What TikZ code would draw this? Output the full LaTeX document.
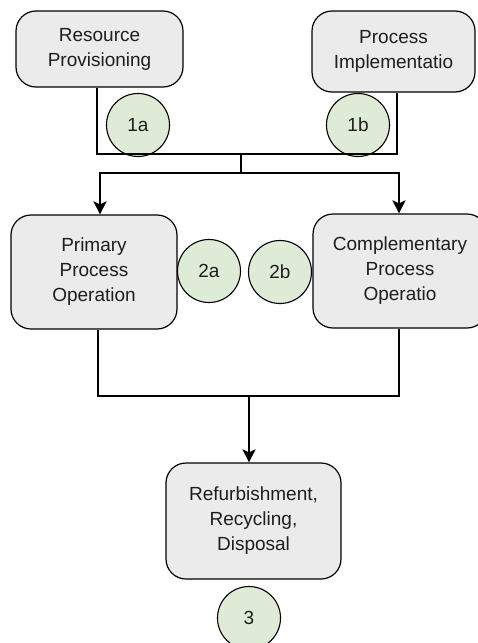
\documentclass[tikz,border=0pt]{standalone}
\usepackage{fontspec}
\setmainfont{Liberation Sans}
\usetikzlibrary{arrows.meta}
\definecolor{boxfill}{HTML}{EBEBEB}
\definecolor{stepfill}{HTML}{DEEBD6}
\definecolor{txt}{HTML}{1E1E1E}
\begin{document}
\begin{tikzpicture}[x=1pt,y=-1pt,
  stagebox/.style={draw=black, line width=1.2pt, fill=boxfill, rounded corners=20pt,
    align=center, text=txt, inner sep=0pt, font=\fontsize{19}{25}\selectfont},
  stepmark/.style={draw=black, line width=1.1pt, fill=stepfill, circle, minimum size=63pt,
    inner sep=0pt, text=txt, font=\fontsize{19}{23}\selectfont},
  conn/.style={line width=2.6pt, line join=miter},
  arr/.style={conn, -{Stealth[length=13pt,width=13pt,inset=3pt]}}]
\useasboundingbox (0,0) rectangle (477,643);

% process stages
\node[stagebox, minimum width=167pt, minimum height=76pt] (RP) at (99.5,49) {Resource\\Provisioning};
\node[stagebox, minimum width=163pt, minimum height=81pt] (PI) at (393.5,51.5) {Process\\Implementatio};
\node[stagebox, minimum width=166pt, minimum height=114pt] (PPO) at (94,272) {Primary\\Process\\Operation};
\node[stagebox, minimum width=174pt, minimum height=114pt] (CPO) at (400,271) {Complementary\\Process\\Operatio};
\node[stagebox, minimum width=175pt, minimum height=116pt] (RRD) at (253.5,521) {Refurbishment,\\Recycling,\\Disposal};

% step markers
\node[stepmark] (s1a) at (138,125) {1a};
\node[stepmark] (s1b) at (358,125) {1b};
\node[stepmark] (s2a) at (209,271) {2a};
\node[stepmark] (s2b) at (280,272) {2b};
\node[stepmark] (s3) at (249,618) {3};

% junction points
\coordinate (j1) at (241,154);
\coordinate (j2) at (241,173);
\coordinate (j3) at (249,396);

% connectors
\draw[conn] ([xshift=-2.5pt]RP.south) |- (j1) -| ([xshift=3.5pt]PI.south);
\draw[conn] (j1) -- (j2);
\draw[arr] (j2) -| ([xshift=6pt]PPO.north);
\draw[arr] (j2) -| ([xshift=-1pt]CPO.north);
\draw[conn] ([xshift=4pt]PPO.south) |- (j3) -| ([xshift=-1pt]CPO.south);
\draw[arr] (j3) -- (j3 |- RRD.north);
\end{tikzpicture}
\end{document}
